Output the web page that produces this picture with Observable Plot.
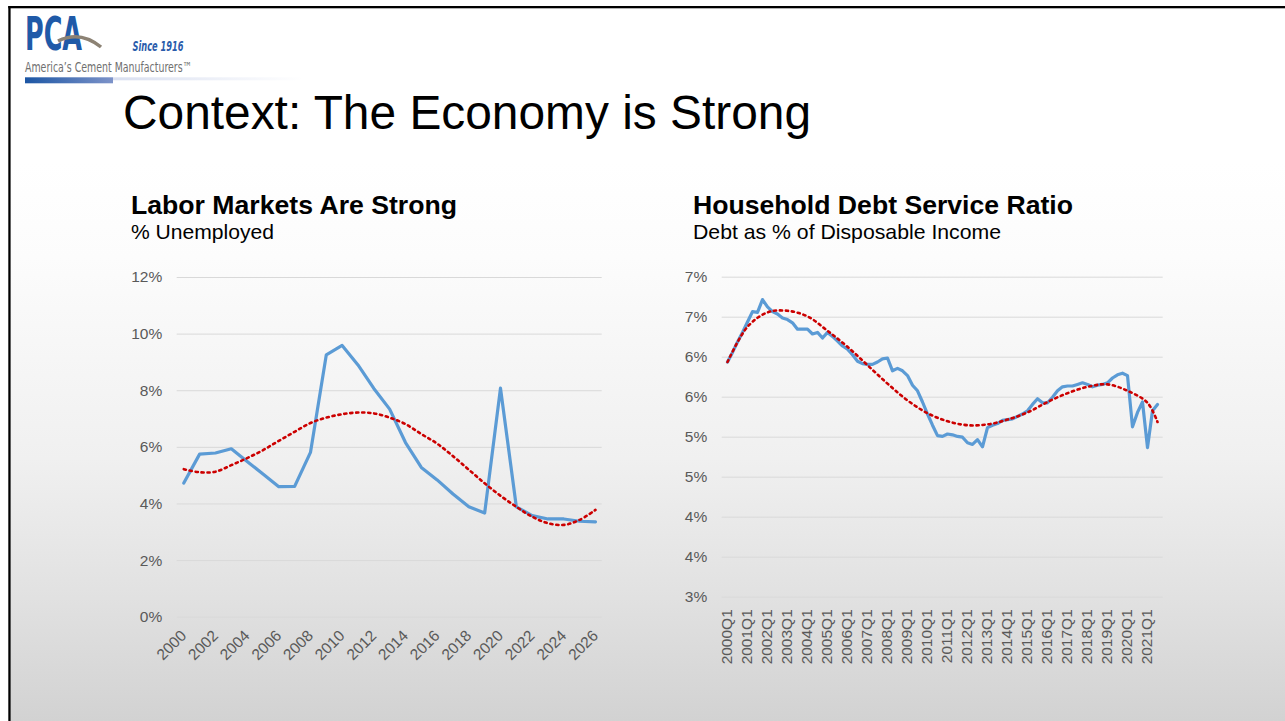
<!DOCTYPE html>
<html><head><meta charset="utf-8">
<script src="https://cdn.jsdelivr.net/npm/d3@7"></script>
<script src="https://cdn.jsdelivr.net/npm/@observablehq/plot@0.6"></script>
<style>
html,body{margin:0;padding:0;background:#fff;}
#slide{position:relative;width:1285px;height:721px;overflow:hidden;background:#fff;font-family:"Liberation Sans",Arial,sans-serif;}
#bg{position:absolute;left:0;top:0;}
.chart{position:absolute;}
</style></head><body>
<div id="slide">
<svg id="bg" width="1285" height="721" xmlns="http://www.w3.org/2000/svg">
  <defs>
    <linearGradient id="g" x1="0" y1="0" x2="0" y2="1">
      <stop offset="0" stop-color="#ffffff"/>
      <stop offset="0.17" stop-color="#fcfcfc"/>
      <stop offset="0.53" stop-color="#f0f0f0"/>
      <stop offset="0.78" stop-color="#e1e1e1"/>
      <stop offset="1" stop-color="#d2d2d2"/>
    </linearGradient>
    <linearGradient id="bar" x1="0" x2="1" y1="0" y2="0">
      <stop offset="0" stop-color="#1c56a4"/>
      <stop offset="1" stop-color="#7d93c9"/>
    </linearGradient>
    <linearGradient id="bar2" x1="0" x2="1" y1="0" y2="0">
      <stop offset="0" stop-color="#d9dff0"/>
      <stop offset="1" stop-color="#ffffff"/>
    </linearGradient>
  </defs>
  <rect x="10" y="163" width="1275" height="558" fill="url(#g)"/>
  <rect x="8.3" y="6" width="1277" height="2.3" fill="#000"/>
  <rect x="8.3" y="6" width="2.3" height="715" fill="#000"/>
  <!-- logo -->
  <text x="25" y="50" font-family="'Liberation Sans Narrow','DejaVu Sans Condensed','Liberation Sans',sans-serif" font-weight="bold" font-size="46" fill="#1f5aa8" textLength="57" lengthAdjust="spacingAndGlyphs">PCA</text>
  <path d="M58 41 Q 80 30 101 47" fill="none" stroke="#8c8274" stroke-width="3.5"/>
  <text x="132.5" y="50.5" font-family="'Liberation Sans Narrow','DejaVu Sans Condensed','Liberation Sans',sans-serif" font-style="italic" font-weight="bold" font-size="14" fill="#2a5cab" textLength="51" lengthAdjust="spacingAndGlyphs">Since 1916</text>
  <text x="25" y="71.5" font-family="'Liberation Sans Narrow','DejaVu Sans Condensed','Liberation Sans',sans-serif" font-size="14" fill="#6f6f6f" textLength="167" lengthAdjust="spacingAndGlyphs">America’s Cement Manufacturers™</text>
  <rect x="25" y="77.3" width="88" height="6" fill="url(#bar)"/>
  <rect x="113" y="77.3" width="190" height="3" fill="url(#bar2)"/>
  <!-- titles -->
  <text x="123" y="128.5" font-size="47.8" fill="#000" textLength="688" lengthAdjust="spacingAndGlyphs" font-family="'Liberation Sans',Arial,sans-serif">Context: The Economy is Strong</text>
  <text x="131" y="214" font-size="26.5" font-weight="bold" fill="#000" textLength="326" lengthAdjust="spacingAndGlyphs" font-family="'Liberation Sans',Arial,sans-serif">Labor Markets Are Strong</text>
  <text x="131" y="238.5" font-size="21.1" fill="#000" textLength="143" lengthAdjust="spacingAndGlyphs" font-family="'Liberation Sans',Arial,sans-serif">% Unemployed</text>
  <text x="693" y="214" font-size="26.5" font-weight="bold" fill="#000" textLength="380" lengthAdjust="spacingAndGlyphs" font-family="'Liberation Sans',Arial,sans-serif">Household Debt Service Ratio</text>
  <text x="693" y="238.5" font-size="21.1" fill="#000" textLength="308" lengthAdjust="spacingAndGlyphs" font-family="'Liberation Sans',Arial,sans-serif">Debt as % of Disposable Income</text>
</svg>
<div id="left" class="chart" style="left:100px;top:260px"></div>
<div id="right" class="chart" style="left:640px;top:260px"></div>
</div>
<script>
// ---------- Left chart: unemployment ----------
const years = [2000,2001,2002,2003,2004,2005,2006,2007,2008,2009,2010,2011,2012,2013,2014,2015,2016,2017,2018,2019,2020,2021,2022,2023,2024,2025,2026];
const unemployment = [4.74,5.76,5.80,5.95,5.50,5.06,4.61,4.62,5.82,9.27,9.60,8.91,8.08,7.35,6.17,5.29,4.85,4.35,3.90,3.68,8.09,3.90,3.59,3.47,3.47,3.39,3.37];
const unemploymentTrend = [5.23,5.12,5.14,5.37,5.62,5.90,6.23,6.55,6.86,7.05,7.17,7.23,7.20,7.05,6.82,6.47,6.13,5.69,5.21,4.73,4.29,3.90,3.55,3.32,3.26,3.44,3.79];
const leftYTicks = [0,2,4,6,8,10,12];
const leftXTicks = [2000,2002,2004,2006,2008,2010,2012,2014,2016,2018,2020,2022,2024,2026];

// ---------- Right chart: household debt service ratio ----------
const quarters = [
 "2000Q1","2000Q2","2000Q3","2000Q4","2001Q1","2001Q2","2001Q3","2001Q4",
 "2002Q1","2002Q2","2002Q3","2002Q4","2003Q1","2003Q2","2003Q3","2003Q4",
 "2004Q1","2004Q2","2004Q3","2004Q4","2005Q1","2005Q2","2005Q3","2005Q4",
 "2006Q1","2006Q2","2006Q3","2006Q4","2007Q1","2007Q2","2007Q3","2007Q4",
 "2008Q1","2008Q2","2008Q3","2008Q4","2009Q1","2009Q2","2009Q3","2009Q4",
 "2010Q1","2010Q2","2010Q3","2010Q4","2011Q1","2011Q2","2011Q3","2011Q4",
 "2012Q1","2012Q2","2012Q3","2012Q4","2013Q1","2013Q2","2013Q3","2013Q4",
 "2014Q1","2014Q2","2014Q3","2014Q4","2015Q1","2015Q2","2015Q3","2015Q4",
 "2016Q1","2016Q2","2016Q3","2016Q4","2017Q1","2017Q2","2017Q3","2017Q4",
 "2018Q1","2018Q2","2018Q3","2018Q4","2019Q1","2019Q2","2019Q3","2019Q4",
 "2020Q1","2020Q2","2020Q3","2020Q4","2021Q1","2021Q2","2021Q3"];
const debtService = [
 5.94,6.06,6.19,6.31,6.44,6.57,6.56,6.72,
 6.63,6.57,6.54,6.49,6.47,6.43,6.35,6.35,
 6.35,6.29,6.31,6.24,6.31,6.26,6.20,6.14,
 6.10,6.03,5.95,5.92,5.91,5.91,5.94,5.98,
 5.99,5.83,5.86,5.83,5.77,5.65,5.58,5.44,
 5.29,5.15,5.02,5.01,5.04,5.03,5.01,5.00,
 4.93,4.91,4.97,4.88,5.12,5.15,5.17,5.21,
 5.22,5.23,5.26,5.29,5.33,5.41,5.48,5.43,
 5.43,5.50,5.58,5.63,5.64,5.64,5.66,5.68,
 5.66,5.63,5.65,5.66,5.68,5.74,5.78,5.80,
 5.77,5.13,5.31,5.44,4.87,5.33,5.41];
const debtTrendQuarters = ["2000Q1","2001Q1","2002Q1","2003Q1","2004Q1","2005Q1","2006Q1","2007Q1","2008Q1","2009Q1","2010Q1","2011Q1","2012Q1","2013Q1","2014Q1","2015Q1","2016Q1","2017Q1","2018Q1","2019Q1","2020Q1","2021Q1","2021Q3"];
const debtTrend = [5.94,6.38,6.56,6.58,6.51,6.33,6.13,5.90,5.67,5.46,5.30,5.20,5.15,5.16,5.22,5.31,5.44,5.55,5.63,5.66,5.58,5.43,5.19];
const rightYTicks = [3,3.5,4,4.5,5,5.5,6,6.5,7];
const rightXTicks = ["2000Q1","2001Q1","2002Q1","2003Q1","2004Q1","2005Q1","2006Q1","2007Q1","2008Q1","2009Q1","2010Q1","2011Q1","2012Q1","2013Q1","2014Q1","2015Q1","2016Q1","2017Q1","2018Q1","2019Q1","2020Q1","2021Q1"];

const BLUE = "#5b9bd5", RED = "#cc0000", GRID = "#d9d9d9";
const DOTS = "2.2,3.8";
const baseStyle = {background: "transparent", color: "#595959", fontSize: "15.5px", fontFamily: "'Liberation Sans', Arial, sans-serif", overflow: "visible"};

const leftData = years.map((y, i) => ({year: y, value: unemployment[i]}));
const leftTrend = years.map((y, i) => ({year: y, value: unemploymentTrend[i]}));

const left = Plot.plot({
  width: 520, height: 420,
  marginLeft: 76.7, marginRight: 18.3, marginTop: 17, marginBottom: 63.3,
  style: baseStyle,
  x: {type: "linear", domain: [2000, 2026], insetLeft: 6.6, insetRight: 6.7,
      ticks: leftXTicks, tickFormat: d => String(d), tickRotate: -45, tickSize: 0, tickPadding: 16, label: null},
  y: {domain: [0, 12], ticks: leftYTicks, tickFormat: d => d + "%", tickSize: 0, tickPadding: 15, label: null},
  marks: [
    Plot.ruleY(leftYTicks, {stroke: GRID, strokeWidth: 1}),
    Plot.line(leftData, {x: "year", y: "value", stroke: BLUE, strokeWidth: 3.2, strokeLinejoin: "round"}),
    Plot.line(leftTrend, {x: "year", y: "value", stroke: RED, strokeWidth: 2.6, strokeDasharray: DOTS, curve: "catmull-rom"})
  ]
});
document.getElementById("left").appendChild(left);

const rightData = quarters.map((q, i) => ({q, value: debtService[i]}));
const rightTrend = debtTrendQuarters.map((q, i) => ({q, value: debtTrend[i]}));

const right = Plot.plot({
  width: 540, height: 440,
  marginLeft: 81.7, marginRight: 17.3, marginTop: 16.7, marginBottom: 103.3,
  style: baseStyle,
  x: {type: "point", domain: quarters, padding: 0.5,
      ticks: rightXTicks, tickRotate: -90, tickSize: 0, tickPadding: 12, label: null},
  y: {domain: [3, 7], ticks: rightYTicks, tickFormat: d => Math.round(d) + "%", tickSize: 0, tickPadding: 15, label: null},
  marks: [
    Plot.ruleY(rightYTicks, {stroke: GRID, strokeWidth: 1}),
    Plot.line(rightData, {x: "q", y: "value", stroke: BLUE, strokeWidth: 3.2, strokeLinejoin: "round"}),
    Plot.line(rightTrend, {x: "q", y: "value", stroke: RED, strokeWidth: 2.6, strokeDasharray: DOTS, curve: "catmull-rom"})
  ]
});
document.getElementById("right").appendChild(right);
</script>
</body></html>
